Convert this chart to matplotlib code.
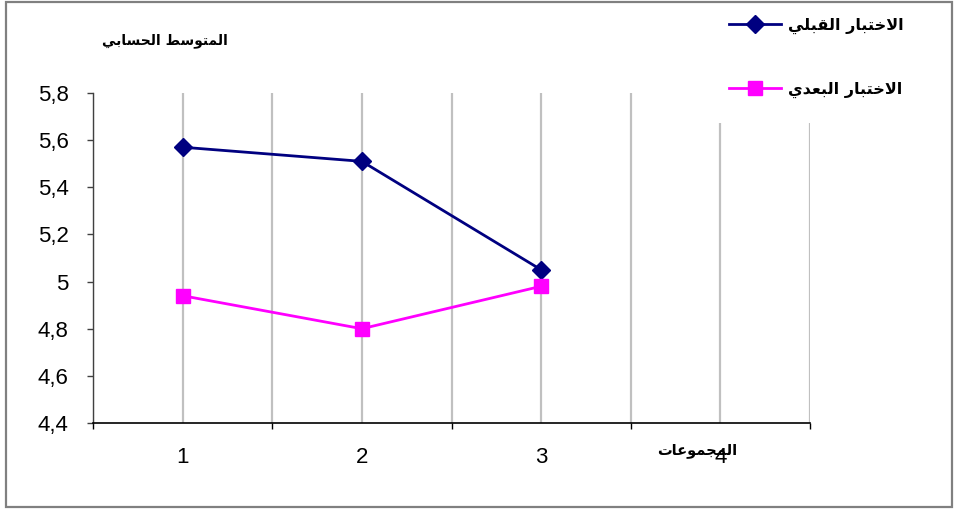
import matplotlib
matplotlib.use("Agg")
import matplotlib.pyplot as plt
from matplotlib.patches import Rectangle
from matplotlib.ticker import FixedLocator

# ---- data -------------------------------------------------------------
groups = ["1", "2", "3", "4"]
pre_test = [5.57, 5.51, 5.05]     # الاختبار القبلي
post_test = [4.94, 4.80, 4.98]    # الاختبار البعدي
y_ticks = [4.4, 4.6, 4.8, 5.0, 5.2, 5.4, 5.6, 5.8]
y_tick_labels = ["4,4", "4,6", "4,8", "5", "5,2", "5,4", "5,6", "5,8"]

label_pre = "الاختبار القبلي"
label_post = "الاختبار البعدي"
y_title = "المتوسط الحسابي"
x_title = "المجموعات"

# ---- minimal Arabic shaping (presentation forms, visual order) --------
# isolated, final, initial, medial
FORMS = {
    "ا": ("\uFE8D", "\uFE8E", None, None),
    "ب": ("\uFE8F", "\uFE90", "\uFE91", "\uFE92"),
    "ت": ("\uFE95", "\uFE96", "\uFE97", "\uFE98"),
    "ج": ("\uFE9D", "\uFE9E", "\uFE9F", "\uFEA0"),
    "ح": ("\uFEA1", "\uFEA2", "\uFEA3", "\uFEA4"),
    "خ": ("\uFEA5", "\uFEA6", "\uFEA7", "\uFEA8"),
    "د": ("\uFEA9", "\uFEAA", None, None),
    "ر": ("\uFEAD", "\uFEAE", None, None),
    "س": ("\uFEB1", "\uFEB2", "\uFEB3", "\uFEB4"),
    "ط": ("\uFEC1", "\uFEC2", "\uFEC3", "\uFEC4"),
    "ع": ("\uFEC9", "\uFECA", "\uFECB", "\uFECC"),
    "ق": ("\uFED5", "\uFED6", "\uFED7", "\uFED8"),
    "ل": ("\uFEDD", "\uFEDE", "\uFEDF", "\uFEE0"),
    "م": ("\uFEE1", "\uFEE2", "\uFEE3", "\uFEE4"),
    "و": ("\uFEED", "\uFEEE", None, None),
    "ي": ("\uFEF1", "\uFEF2", "\uFEF3", "\uFEF4"),
}


def joins_left(ch):
    return ch in FORMS and FORMS[ch][2] is not None


def shape(text):
    out = []
    i = 0
    n = len(text)
    while i < n:
        ch = text[i]
        if ch not in FORMS:
            out.append(ch)
            i += 1
            continue
        prev_joins = i > 0 and joins_left(text[i - 1])
        if ch == "ل" and i + 1 < n and text[i + 1] == "ا":
            out.append("\uFEFC" if prev_joins else "\uFEFB")
            i += 2
            continue
        next_ar = i + 1 < n and text[i + 1] in FORMS
        iso, fin, ini, med = FORMS[ch]
        can_next = ini is not None and next_ar
        if prev_joins and can_next:
            out.append(med)
        elif prev_joins:
            out.append(fin)
        elif can_next:
            out.append(ini)
        else:
            out.append(iso)
        i += 1
    return "".join(reversed(out))


AR_FONT = ["DejaVu Sans"]
NUM_FONT = ["Liberation Sans", "DejaVu Sans"]

# ---- figure -----------------------------------------------------------
W, H = 955, 509
fig = plt.figure(figsize=(W / 100, H / 100), dpi=100)
fig.patch.set_facecolor("white")

ax = fig.add_axes([93 / W, 1 - 423 / H, (810 - 93) / W, (423 - 93) / H])

xpos = [i + 0.5 for i in range(len(groups))]
ax.plot(xpos[:len(pre_test)], pre_test, color="#000080", lw=2.0,
        marker="D", ms=9, mew=1, zorder=3, label=shape(label_pre))
ax.plot(xpos[:len(post_test)], post_test, color="#FF00FF", lw=2.0,
        marker="s", ms=10, mew=1, zorder=3, label=shape(label_post))

ax.set_xlim(0, len(groups))
ax.set_ylim(y_ticks[0], y_ticks[-1])

# category labels at centres, tick marks at category boundaries
ax.set_xticks(xpos)
ax.set_xticklabels(groups, fontsize=16, family=NUM_FONT)
ax.xaxis.set_minor_locator(FixedLocator(range(len(groups) + 1)))
ax.tick_params(axis="x", which="major", length=0, pad=17)
ax.tick_params(axis="x", which="minor", length=4.5, width=1.0,
               color="black", direction="out")

ax.set_yticks(y_ticks)
ax.set_yticklabels(y_tick_labels, fontsize=16, family=NUM_FONT)
ax.tick_params(axis="y", length=4.5, width=1.0, color="#404040",
               direction="out", pad=13)

ax.grid(True, axis="x", which="both", color="#c0c0c0", lw=1.6, zorder=0)
ax.grid(False, axis="y")
ax.set_axisbelow(True)

for side in ("top", "right"):
    ax.spines[side].set_visible(False)
ax.spines["left"].set_color("#404040")
ax.spines["left"].set_linewidth(1.0)
ax.spines["bottom"].set_color("black")
ax.spines["bottom"].set_linewidth(1.2)

# axis titles
fig.text(165 / W, 1 - 41 / H, shape(y_title), ha="center", va="center",
         fontsize=10, fontweight="bold", family=AR_FONT)
fig.text(697 / W, 1 - 450 / H, shape(x_title), ha="center", va="center",
         fontsize=10.5, fontweight="bold", family=AR_FONT)

# legend
leg = fig.legend(loc="upper left", bbox_to_anchor=(703 / W, 1 + 8 / H),
                 frameon=True, facecolor="white", edgecolor="none",
                 framealpha=1.0, fancybox=False, borderpad=1.6,
                 borderaxespad=0, handlelength=3.3, handletextpad=0.45,
                 labelspacing=3.0, numpoints=1,
                 prop={"family": AR_FONT, "size": 11.5, "weight": "bold"})
leg.set_zorder(10)

# outer frame, drawn above everything
frame = Rectangle((6 / W, 2 / H), (952 - 6) / W, (507 - 2) / H,
                  transform=fig.transFigure, fill=False,
                  edgecolor="#808080", lw=1.6, zorder=20)
fig.add_artist(frame)

fig.savefig("out.png", dpi=100)
